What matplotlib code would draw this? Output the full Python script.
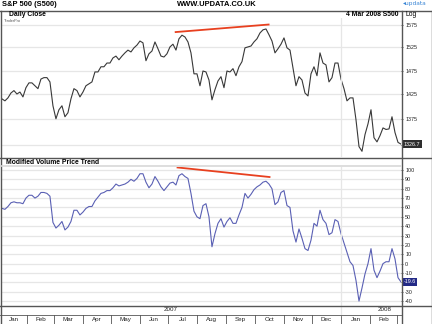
import numpy as np
import pandas as pd
import matplotlib
matplotlib.use('Agg')
import matplotlib.pyplot as plt
from matplotlib.ticker import NullLocator
from matplotlib.transforms import blended_transform_factory

plt.rcParams['font.family'] = ['Liberation Sans', 'DejaVu Sans']

# S&P 500 daily close (sampled), Jan 2007 - 4 Mar 2008
close = [1416, 1412, 1418, 1428, 1433, 1426, 1430, 1420, 1439, 1449,
         1449, 1443, 1437, 1457, 1460, 1460, 1451, 1402, 1376, 1394,
         1402, 1380, 1388, 1416, 1437, 1433, 1420, 1430, 1443, 1447,
         1451, 1472, 1472, 1483, 1483, 1491, 1491, 1502, 1506, 1498,
         1506, 1513, 1519, 1515, 1524, 1530, 1539, 1535, 1496, 1511,
         1517, 1537, 1522, 1506, 1504, 1511, 1526, 1532, 1519, 1544,
         1552, 1548, 1537, 1513, 1468, 1468, 1443, 1474, 1472, 1455,
         1414, 1435, 1453, 1462, 1439, 1474, 1472, 1479, 1464, 1483,
         1494, 1524, 1526, 1528, 1537, 1544, 1557, 1564, 1566, 1553,
         1539, 1513, 1522, 1532, 1546, 1524, 1519, 1481, 1443, 1462,
         1455, 1428, 1422, 1468, 1483, 1464, 1513, 1491, 1487, 1451,
         1460, 1491, 1491, 1457, 1437, 1412, 1418, 1418, 1374, 1322,
         1313, 1345, 1366, 1394, 1339, 1331, 1343, 1358, 1355, 1356,
         1380, 1349, 1330, 1326.7]

# Modified Volume Price Trend
mvpt = [59, 58, 61, 65, 66, 65, 65, 64, 70, 73,
        73, 70, 72, 76, 76, 75, 72, 44, 38, 41,
        45, 36, 39, 45, 57, 57, 52, 55, 59, 61,
        61, 67, 71, 75, 76, 78, 78, 81, 85, 83,
        84, 85, 87, 90, 88, 91, 96, 96, 87, 81,
        85, 93, 88, 82, 78, 82, 86, 87, 84, 94,
        96, 93, 91, 75, 56, 50, 48, 62, 64, 50,
        18, 32, 43, 48, 39, 45, 49, 43, 43, 52,
        60, 75, 70, 74, 79, 82, 84, 87, 88, 85,
        80, 63, 66, 76, 78, 62, 60, 35, 23, 37,
        27, 16, 14, 25, 43, 40, 57, 47, 43, 31,
        33, 47, 45, 32, 22, 12, 2, -2, -18, -40,
        -26, -11, 0, 16, -7, -15, -8, 0, 2, 2,
        16, 5, -15, -19.6]

dates = pd.date_range('2007-01-05', '2008-03-05', periods=len(close))

# divergence lines
price_div_dates = pd.to_datetime(['2007-07-09', '2007-10-16'])
price_div = [1559, 1576]
mvpt_div_dates = pd.to_datetime(['2007-07-11', '2007-10-17'])
mvpt_div = [102.7, 92.5]

price_ticks = [1325, 1375, 1425, 1475, 1525, 1575]
price_labels = ['', '1375', '1425', '1475', '1525', '1575']
mvpt_ticks = [-40, -30, -20, -10, 0, 10, 20, 30, 40, 50, 60, 70, 80, 90, 100]
mvpt_labels = ['-40', '-30', '', '-10', '0', '10', '20', '30', '40', '50',
               '60', '70', '80', '90', '100']
months = ['Jan', 'Feb', 'Mar', 'Apr', 'May', 'Jun', 'Jul', 'Aug', 'Sep',
          'Oct', 'Nov', 'Dec', 'Jan', 'Feb']
month_edges = pd.date_range('2007-01-01', '2008-03-01', freq='MS')

W, H = 432, 324
x0, x1 = pd.Timestamp('2007-01-04'), pd.Timestamp('2008-03-05')
GRID = '#e6e6e6'
FRAME = '#555555'


def rect(l, t, r, b):
    return [l / W, 1 - b / H, (r - l) / W, (b - t) / H]


fig = plt.figure(figsize=(W / 100, H / 100), dpi=100)

# ---- price panel
ax1 = fig.add_axes(rect(1, 18, 401, 157), facecolor='none')
ax1.plot(dates, close, color='#383838', lw=0.8)
ax1.plot(price_div_dates, price_div, color='#e8401f', lw=1.3)
ax1.set_yscale('log')
ax1.set_ylim(1302.3, 1590.9)
ax1.set_xlim(x0, x1)
ax1.yaxis.set_minor_locator(NullLocator())
ax1.set_yticks(price_ticks)
ax1.set_yticklabels(price_labels)
ax1.grid(axis='y', color=GRID, lw=0.9)
ax1.axvline(pd.Timestamp('2008-01-01'), color=GRID, lw=0.9)
tr1 = blended_transform_factory(ax1.transAxes, ax1.transData)
ax1.text(1.006, close[-1], f'{close[-1]:.1f}', transform=tr1, ha='left',
         va='center', fontsize=3.9, color='white', clip_on=False,
         bbox=dict(boxstyle='square,pad=0.3', fc='#2e2e2e', ec='none'))

# ---- indicator panel
ax2 = fig.add_axes(rect(1, 167, 401, 305), facecolor='none')
ax2.plot(dates, mvpt, color='#5a60b4', lw=0.8)
ax2.plot(mvpt_div_dates, mvpt_div, color='#e8401f', lw=1.3)
ax2.set_ylim(-44.2, 103.2)
ax2.set_xlim(x0, x1)
ax2.set_yticks(mvpt_ticks)
ax2.set_yticklabels(mvpt_labels)
ax2.grid(axis='y', color=GRID, lw=0.9)
ax2.axvline(pd.Timestamp('2008-01-01'), color=GRID, lw=0.9)
for lab in ax2.get_yticklabels():
    if lab.get_text() == '0':
        lab.set_fontweight('bold')
tr2 = blended_transform_factory(ax2.transAxes, ax2.transData)
ax2.text(1.006, mvpt[-1], f'{mvpt[-1]:.1f}', transform=tr2, ha='left',
         va='center', fontsize=3.9, color='white', clip_on=False,
         bbox=dict(boxstyle='square,pad=0.3', fc='#232a86', ec='none'))

for ax in (ax1, ax2):
    ax.yaxis.tick_right()
    ax.tick_params(axis='y', length=1.5, width=0.5, pad=1.5, labelsize=3.9,
                   colors='#222222')
    ax.tick_params(axis='x', bottom=False, labelbottom=False)
    for s in ax.spines.values():
        s.set_visible(False)

# ---- date axis
ax3 = fig.add_axes(rect(1, 305, 401, 324), facecolor='none')
ax3.set_xlim(x0, x1)
ax3.set_ylim(0, 1)
ax3.axis('off')
for d in month_edges[1:]:
    ax3.plot([d, d], [0, 0.5], color=FRAME, lw=0.6)
for i, m in enumerate(months):
    left = max(month_edges[i], x0)
    mid = left + (month_edges[i + 1] - left) / 2
    ax3.text(mid, 0.24, m, ha='center', va='center', fontsize=4.5, color='#222222')
ax3.plot([pd.Timestamp('2008-01-01')] * 2, [0.5, 1], color=GRID, lw=0.9)
ax3.text(pd.Timestamp('2007-07-04'), 0.76, '2007', ha='center', va='center',
         fontsize=4.5, color='#222222')
ax3.text(pd.Timestamp('2008-02-17'), 0.76, '2008', ha='center', va='center',
         fontsize=4.5, color='#222222')

# ---- frame and headers (pixel coordinates)
fr = fig.add_axes([0, 0, 1, 1], facecolor='none', zorder=10)
fr.set_xlim(0, W)
fr.set_ylim(H, 0)
fr.axis('off')
fr.plot([0.5, 0.5], [10.5, H], color=FRAME, lw=1)
fr.plot([W - 0.5, W - 0.5], [10.5, H], color=FRAME, lw=1)
fr.plot([0, W], [10.5, 10.5], color=FRAME, lw=1)
fr.plot([401.5, 401.5], [10.5, H], color=FRAME, lw=1)
fr.plot([0, W], [157.5, 157.5], color=FRAME, lw=1)
fr.plot([0, W], [305.5, 305.5], color=FRAME, lw=1)
fr.plot([0, 401.5], [314.5, 314.5], color=FRAME, lw=0.6)
fr.plot([1, 401], [166, 166], color='#d8d8d8', lw=1.2)

fr.text(2, 5, 'S&P 500 (S500)', fontsize=5.4, fontweight='bold', va='center')
fr.text(217, 5, 'WWW.UPDATA.CO.UK', fontsize=5.4, fontweight='bold',
        va='center', ha='center')
fr.text(403, 4, '\u25c2updata', fontsize=4.2, color='#3a86d6', va='center',
        ha='left', family=['DejaVu Sans'])
fr.text(9, 14.2, 'Daily Close', fontsize=4.9, fontweight='bold', va='center')
fr.text(398, 14.2, '4 Mar 2008 S500', fontsize=4.9, fontweight='bold',
        va='center', ha='right')
fr.text(405, 14.2, 'Log', fontsize=4.9, va='center')
fr.text(4, 21.5, 'TraderPro', fontsize=2.8, color='#555555', va='center')
fr.text(6, 162, 'Modified Volume Price Trend', fontsize=4.9,
        fontweight='bold', va='center')

fig.savefig('out.png', dpi=100)
